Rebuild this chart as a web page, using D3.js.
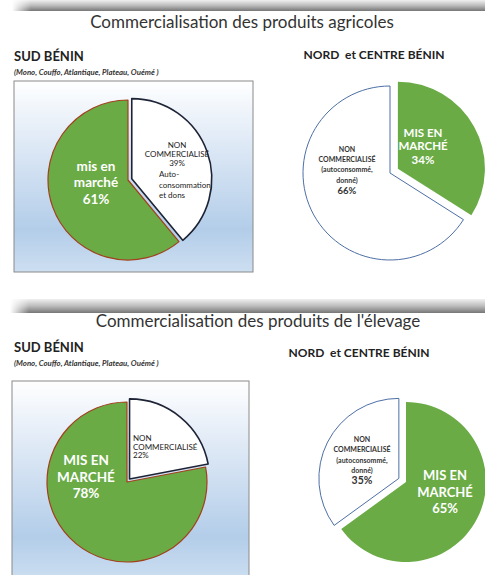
<!DOCTYPE html>
<html>
<head>
<meta charset="utf-8">
<script src="https://cdn.jsdelivr.net/npm/d3@7"></script>
<style>
  html, body { margin: 0; padding: 0; background: #fff; }
  svg { display: block; font-family: Lato, "Open Sans", sans-serif; }
</style>
</head>
<body>
<svg id="chart" width="485" height="575"></svg>
<script>
// values, in %
const categories = ['non', 'mis'];
const agricoleSud = [39, 61];
const agricoleNord = [66, 34];
const elevageSud = [22, 78];
const elevageNord = [35, 65];

const sectionTitles = ['Commercialisation des produits agricoles', "Commercialisation des produits de l'élevage"];
const regionTitles = ['SUD BÉNIN', 'NORD\u00a0\u00a0et CENTRE BÉNIN'];
const sudSubtitle = '(Mono, Couffo, Atlantique, Plateau, Ouémé )';

const labelsAgriSud = {mis: ['mis en', 'marché'], non: ['NON', 'COMMERCIALISÉ'], extra: ['Auto-', 'consommation', 'et dons']};
const labelsNord = {mis: ['MIS EN', 'MARCHÉ'], non: ['NON', 'COMMERCIALISÉ', '(autoconsommé,', 'donné)']};
const labelsElevSud = {mis: ['MIS EN', 'MARCHÉ'], non: ['NON', 'COMMERCIALISÉ']};

const GREEN = '#6aab46';

const svg = d3.select('#chart');
const defs = svg.append('defs');

const bar = defs.append('linearGradient').attr('id', 'bar').attr('x1', 0).attr('x2', 0).attr('y1', 0).attr('y2', 1);
bar.append('stop').attr('offset', 0).attr('stop-color', '#f0f0f0');
bar.append('stop').attr('offset', 0.5).attr('stop-color', '#bcbcbc');
bar.append('stop').attr('offset', 1).attr('stop-color', '#767676');

const barFade = defs.append('linearGradient').attr('id', 'barFade');
barFade.append('stop').attr('offset', 0).attr('stop-color', '#fff').attr('stop-opacity', 1);
barFade.append('stop').attr('offset', 0.04).attr('stop-color', '#fff').attr('stop-opacity', 0);

const panel = defs.append('linearGradient').attr('id', 'panel').attr('x1', 0).attr('x2', 0).attr('y1', 0).attr('y2', 1);
panel.append('stop').attr('offset', 0).attr('stop-color', '#ffffff');
panel.append('stop').attr('offset', 0.25).attr('stop-color', '#e6eef8');
panel.append('stop').attr('offset', 0.78).attr('stop-color', '#b3cde9');
panel.append('stop').attr('offset', 1).attr('stop-color', '#cddff1');

function drawBar(x, y, h) {
  svg.append('rect').attr('x', x).attr('y', y).attr('width', 485 - x).attr('height', h).attr('fill', 'url(#bar)');
  svg.append('rect').attr('x', x).attr('y', y).attr('width', 485 - x).attr('height', h).attr('fill', 'url(#barFade)');
}

function drawHeader(title, tx, ty, sud, nord) {
  svg.append('text').attr('x', tx).attr('y', ty).attr('text-anchor', 'middle')
    .attr('font-size', 17).attr('fill', '#333').text(title);
  svg.append('text').attr('x', sud.x).attr('y', sud.y).attr('font-size', 13).attr('font-weight', 'bold')
    .attr('fill', '#222').text(regionTitles[0]);
  svg.append('text').attr('x', sud.x).attr('y', sud.y + 14).attr('font-size', 7.8).attr('font-weight', 'bold')
    .attr('font-style', 'italic').attr('fill', '#333').text(sudSubtitle);
  svg.append('text').attr('x', nord.x).attr('y', nord.y).attr('text-anchor', 'middle')
    .attr('font-size', 12).attr('font-weight', 'bold').attr('fill', '#222').text(regionTitles[1]);
}

function drawPanel(x, y, w, h) {
  svg.append('rect').attr('x', x).attr('y', y).attr('width', w).attr('height', h)
    .attr('fill', 'url(#panel)').attr('stroke', '#8a8a8a').attr('stroke-width', 1);
}

// pie: order of slices clockwise from 12 o'clock, one slice pulled out
function drawPie(p) {
  const items = p.order.map(k => ({key: k, value: p.values[categories.indexOf(k)]}));
  const arcs = d3.pie().sort(null).value(d => d.value)(items);
  const arc = d3.arc().innerRadius(0).outerRadius(p.r);
  const g = svg.append('g').attr('transform', `translate(${p.cx},${p.cy})`);
  g.selectAll('path').data(arcs).join('path')
    .attr('transform', d => {
      const off = d.data.key === p.explode ? p.offset : 0;
      const mid = (d.startAngle + d.endAngle) / 2;
      return `translate(${Math.sin(mid) * off},${-Math.cos(mid) * off})`;
    })
    .attr('d', arc)
    .attr('fill', d => d.data.key === 'mis' ? GREEN : '#fff')
    .attr('stroke', d => p.stroke[d.data.key])
    .attr('stroke-width', d => p.strokeWidth[d.data.key])
    .attr('stroke-linejoin', 'round');
  return g;
}

function lines(g, list, x, y0, step, opts) {
  list.forEach((t, i) => {
    g.append('text').attr('x', x).attr('y', y0 + i * step)
      .attr('text-anchor', opts.anchor || 'middle')
      .attr('dominant-baseline', 'central')
      .attr('font-size', opts.size).attr('font-weight', opts.weight || 'normal')
      .attr('fill', opts.fill).text(t);
  });
}

const pct = v => v + '%';

// ---------- agricoles ----------
drawBar(12, 0, 11);
drawHeader(sectionTitles[0], 242, 28, {x: 14, y: 61}, {x: 374, y: 59});
drawPanel(14, 81, 239, 191);

let g = drawPie({cx: 128, cy: 180, r: 80, values: agricoleSud, order: ['non', 'mis'], explode: 'non', offset: 4,
  stroke: {mis: '#a2401d', non: '#1e2436'}, strokeWidth: {mis: 1.2, non: 1.6}});
lines(g, labelsAgriSud.mis.concat(pct(agricoleSud[1])), -32, -14, 16.3, {size: 13.5, weight: 'bold', fill: '#fff'});
lines(g, labelsAgriSud.non.concat(pct(agricoleSud[0])), 49, -35, 8.8, {size: 8, fill: '#222'});
lines(g, labelsAgriSud.extra, 31, -6, 10.5, {size: 8, fill: '#222', anchor: 'start'});

g = drawPie({cx: 390, cy: 173, r: 87, values: agricoleNord, order: ['mis', 'non'], explode: 'mis', offset: 9,
  stroke: {mis: 'none', non: '#4d6fa6'}, strokeWidth: {mis: 0, non: 1}});
lines(g, labelsNord.mis.concat(pct(agricoleNord[1])), 33, -41, 13.5, {size: 11.5, weight: 'bold', fill: '#fff'});
lines(g, labelsNord.non, -43, -24, 10.2, {size: 7, weight: 'bold', fill: '#333'});
lines(g, [pct(agricoleNord[0])], -43, 17, 0, {size: 9.5, weight: 'bold', fill: '#333'});

// ---------- élevage ----------
drawBar(10, 299, 14);
drawHeader(sectionTitles[1], 258, 327, {x: 14, y: 352}, {x: 359, y: 357});
drawPanel(12, 381, 237, 200);

g = drawPie({cx: 127, cy: 482, r: 80, values: elevageSud, order: ['non', 'mis'], explode: 'non', offset: 4,
  stroke: {mis: '#a2401d', non: '#1e2436'}, strokeWidth: {mis: 1.2, non: 1.6}});
lines(g, labelsElevSud.mis.concat(pct(elevageSud[1])), -41, -22, 16.6, {size: 13.5, weight: 'bold', fill: '#fff'});
lines(g, labelsElevSud.non.concat(pct(elevageSud[0])), 6, -44, 8.6, {size: 8, fill: '#222', anchor: 'start'});

g = drawPie({cx: 406, cy: 482, r: 80, values: elevageNord, order: ['mis', 'non'], explode: 'non', offset: 8,
  stroke: {mis: 'none', non: '#4d6fa6'}, strokeWidth: {mis: 0, non: 1}});
lines(g, labelsNord.mis.concat(pct(elevageNord[1])), 39, -7, 16.6, {size: 13, weight: 'bold', fill: '#fff'});
lines(g, labelsNord.non, -44, -43, 10.3, {size: 7, weight: 'bold', fill: '#333'});
lines(g, [pct(elevageNord[0])], -44, -2, 0, {size: 10.5, weight: 'bold', fill: '#333'});
</script>
</body>
</html>
